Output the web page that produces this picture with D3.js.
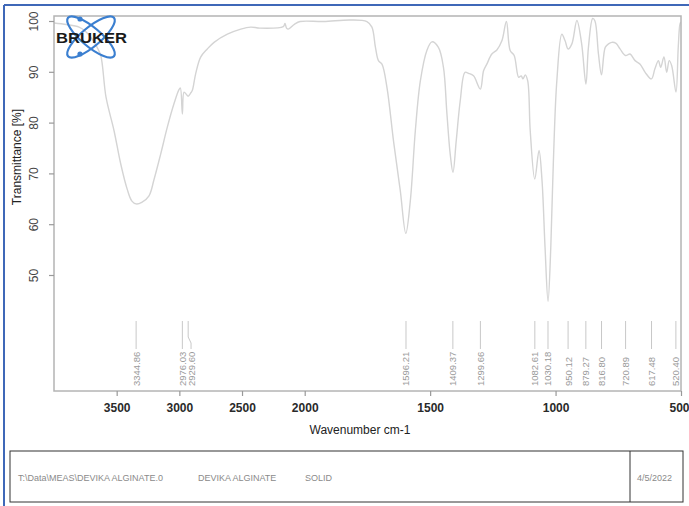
<!DOCTYPE html>
<html>
<head>
<meta charset="utf-8">
<script src="https://cdn.jsdelivr.net/npm/d3@7"></script>
<style>
  html, body { margin: 0; padding: 0; background: #fff; }
  svg { display: block; font-family: "Liberation Sans", Arial, sans-serif; }
</style>
</head>
<body>
<svg id="chart" width="689" height="506"></svg>
<script>
// FT-IR spectrum: wavenumber (cm-1) and transmittance (%)
const wavenumbers = [
  4000, 3900, 3800, 3750, 3700, 3660, 3627, 3585, 3521, 3468, 3415, 3380, 3345, 3300, 3242,
  3202, 3149, 3096, 3043, 3003, 2992, 2976, 2963, 2945, 2930, 2910, 2897, 2870, 2830, 2777,
  2723, 2617, 2510, 2431, 2357, 2171, 2157, 2145, 2131, 2080, 2037, 1925, 1819, 1752, 1732,
  1718, 1706, 1692, 1672, 1646, 1619, 1597, 1579, 1559, 1539, 1513, 1493, 1467, 1447, 1433,
  1420, 1409, 1396, 1380, 1361, 1347, 1327, 1300, 1287, 1274, 1254, 1234, 1214, 1196, 1181,
  1165, 1147, 1137, 1130, 1121, 1111, 1101, 1083, 1066, 1054, 1042, 1030, 1019, 1009, 995,
  975, 962, 950, 935, 915, 896, 879, 869, 852, 843, 829, 817, 802, 789, 776, 759, 743, 721,
  703, 683, 663, 643, 618, 604, 590, 581, 568, 557, 547, 537, 520, 511, 504, 500
];
const transmittance = [
  99.6, 99.3, 98.8, 98.0, 96.6, 95.0, 93.2, 85.0, 78.4, 71.9, 66.8, 64.6, 64.0, 64.3, 65.6,
  68.8, 73.8, 79.1, 83.7, 86.5, 86.8, 81.7, 86.0, 85.6, 85.2, 85.8, 86.3, 89.6, 92.9, 94.5,
  95.8, 97.4, 98.4, 98.8, 98.6, 98.9, 99.5, 98.6, 98.4, 99.4, 99.9, 99.9, 100.2, 99.9, 98.8,
  94.8, 92.2, 91.5, 86.9, 76.4, 66.6, 58.2, 64.6, 78.4, 88.2, 94.2, 95.9, 94.8, 90.9, 81.7,
  73.8, 70.2, 76.4, 84.3, 89.9, 89.7, 89.2, 86.6, 90.2, 91.5, 93.5, 94.3, 96.1, 99.9, 94.2,
  93.2, 88.9, 89.2, 88.6, 89.4, 88.2, 78.4, 68.9, 74.5, 68.6, 55.5, 44.8, 55.5, 71.9, 88.2,
  97.4, 96.1, 94.5, 95.5, 100.1, 95.5, 87.6, 94.8, 100.5, 100.0, 93.5, 89.4, 94.8, 95.5, 95.8,
  95.6, 94.5, 93.2, 93.5, 92.2, 91.5, 89.9, 88.6, 90.6, 92.2, 90.9, 92.9, 89.9, 92.2, 91.2,
  86.0, 94.8, 99.4, 99.8
];

// picked peak positions
const peakLabels = [
  "3344.86", "2976.03", "2929.60", "1596.21", "1409.37", "1299.66", "1082.61",
  "1030.18", "950.12", "879.27", "816.80", "720.89", "617.48", "520.40"
];

const xTickValues = [3500, 3000, 2500, 2000, 1500, 1000, 500];
const yTickValues = [50, 60, 70, 80, 90, 100];

const svg = d3.select("#chart");

// plot box
const plotL = 54, plotR = 681, plotT = 16, plotB = 391;

// wavenumber axis: doubled scale below 2000 cm-1
const x = d3.scaleLinear().domain([4000, 2000, 500]).range([plotL, 304.7, plotR]);
const y = d3.scaleLinear().domain([100, 50]).range([21, 275]);

// outer page frame (top and left edges)
svg.append("line").attr("x1", 4).attr("x2", 689).attr("y1", 5).attr("y2", 5)
  .attr("stroke", "#3f68b8").attr("stroke-width", 2);
svg.append("line").attr("x1", 4).attr("x2", 4).attr("y1", 5).attr("y2", 506)
  .attr("stroke", "#3f68b8").attr("stroke-width", 2);

// spectrum trace
const pts = wavenumbers.map((w, i) => [w, transmittance[i]]);
svg.append("clipPath").attr("id", "plotclip").append("rect")
  .attr("x", plotL).attr("y", plotT).attr("width", plotR - plotL).attr("height", plotB - plotT);
svg.append("path")
  .datum(pts)
  .attr("clip-path", "url(#plotclip)")
  .attr("fill", "none")
  .attr("stroke", "#d4d4d4")
  .attr("stroke-width", 1.4)
  .attr("d", d3.line().x(d => x(d[0])).y(d => y(d[1])).curve(d3.curveCatmullRom.alpha(0.5)));

// plot frame
svg.append("rect").attr("x", plotL).attr("y", plotT).attr("width", plotR - plotL).attr("height", plotB - plotT)
  .attr("fill", "none").attr("stroke", "#b4b4b4").attr("stroke-width", 1.5);

// x axis
const xAxis = d3.axisBottom(x).tickValues(xTickValues).tickSize(5).tickFormat(d3.format("d"));
const gx = svg.append("g").attr("transform", `translate(0,${plotB})`).call(xAxis);
gx.select(".domain").remove();
gx.selectAll(".tick line").attr("stroke", "#999").attr("stroke-width", 1.2);
gx.selectAll(".tick text").attr("fill", "#2a2a2a").attr("font-size", 12).attr("font-weight", "bold")
  .attr("dy", "1.1em").attr("font-family", "Liberation Sans, Arial, sans-serif")
  .attr("text-anchor", d => d === 500 ? "end" : "middle")
  .attr("x", d => d === 500 ? 8 : 0);

// y axis
const yAxis = d3.axisLeft(y).tickValues(yTickValues).tickSize(5).tickFormat(d3.format("d"));
const gy = svg.append("g").attr("transform", `translate(${plotL},0)`).call(yAxis);
gy.select(".domain").remove();
gy.selectAll(".tick line").attr("stroke", "#999").attr("stroke-width", 1.2);
gy.selectAll(".tick text").attr("fill", "#444").attr("font-size", 12)
  .attr("font-family", "Liberation Sans, Arial, sans-serif")
  .attr("text-anchor", "middle").attr("dy", null).attr("x", null)
  .attr("transform", "translate(-20,0) rotate(-90)").attr("dominant-baseline", "central");

// axis titles
svg.append("text").attr("x", 360).attr("y", 434).attr("text-anchor", "middle")
  .attr("font-size", 12).attr("fill", "#222").text("Wavenumber cm-1");
svg.append("text").attr("transform", "translate(21,157) rotate(-90)").attr("text-anchor", "middle")
  .attr("font-size", 12).attr("fill", "#222").text("Transmittance [%]");

// peak markers with leader lines, spread apart where they crowd
const peakX = peakLabels.map(p => x(+p));
const labelX = peakX.slice();
for (let i = 1; i < labelX.length; i++) {
  if (labelX[i] - labelX[i - 1] < 8.7) labelX[i] = labelX[i - 1] + 8.7;
}
const gp = svg.append("g");
peakLabels.forEach((p, i) => {
  const px = peakX[i], lx = labelX[i];
  gp.append("path")
    .attr("d", `M${px},321 L${px},337 L${lx},343 L${lx},349`)
    .attr("fill", "none").attr("stroke", "#c8c8c8").attr("stroke-width", 1);
  gp.append("text")
    .attr("transform", `translate(${lx},386) rotate(-90)`)
    .attr("dominant-baseline", "central")
    .attr("font-size", 9.5).attr("fill", "#9a9a9a").text(p);
});

// logo
const logo = svg.append("g");
logo.append("ellipse").attr("cx", 91).attr("cy", 37).attr("rx", 30).attr("ry", 9.5)
  .attr("transform", "rotate(40,91,37)").attr("fill", "none").attr("stroke", "#3b7fd0").attr("stroke-width", 2.2);
logo.append("ellipse").attr("cx", 91).attr("cy", 37).attr("rx", 30).attr("ry", 9.5)
  .attr("transform", "rotate(-40,91,37)").attr("fill", "none").attr("stroke", "#3b7fd0").attr("stroke-width", 2.2);
logo.append("circle").attr("cx", 80).attr("cy", 19).attr("r", 2.6).attr("fill", "#3b7fd0");
logo.append("circle").attr("cx", 80).attr("cy", 54).attr("r", 2.6).attr("fill", "#3b7fd0");
logo.append("text").attr("x", 56).attr("y", 42.5).attr("textLength", 71).attr("lengthAdjust", "spacingAndGlyphs")
  .attr("font-size", 15).attr("font-weight", "bold").attr("fill", "#1a1a1a").text("BRUKER");

// footer info box
const footer = svg.append("g");
footer.append("rect").attr("x", 10).attr("y", 451).attr("width", 673).attr("height", 51)
  .attr("fill", "none").attr("stroke", "#333").attr("stroke-width", 1);
footer.append("line").attr("x1", 630).attr("x2", 630).attr("y1", 451).attr("y2", 502)
  .attr("stroke", "#333").attr("stroke-width", 1);
const footerText = [
  [18, "T:\\Data\\MEAS\\DEVIKA ALGINATE.0"],
  [198, "DEVIKA ALGINATE"],
  [305, "SOLID"],
  [637, "4/5/2022"]
];
footerText.forEach(([fx, t]) => {
  footer.append("text").attr("x", fx).attr("y", 481).attr("font-size", 9)
    .attr("fill", "#8a8a8a").text(t);
});
</script>
</body>
</html>
